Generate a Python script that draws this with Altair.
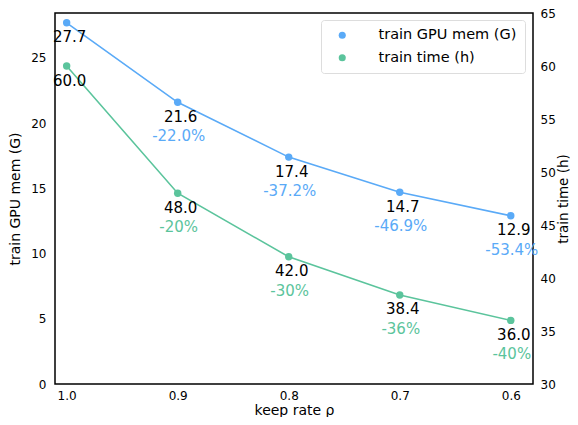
import altair as alt
import pandas as pd

rates = [1.0, 0.9, 0.8, 0.7, 0.6]
mem = [27.7, 21.6, 17.4, 14.7, 12.9]
time_h = [60.0, 48.0, 42.0, 38.4, 36.0]
mem_pct = ["", "-22.0%", "-37.2%", "-46.9%", "-53.4%"]
time_pct = ["", "-20%", "-30%", "-36%", "-40%"]
series_names = ["train GPU mem (G)", "train time (h)"]
colors = ["#5AAAF7", "#5BC49C"]
x_ticks = [1.0, 0.9, 0.8, 0.7, 0.6]

df = pd.DataFrame({
    "rate": rates,
    "mem": mem,
    "time": time_h,
    "mem_lbl": [f"{v:.1f}" for v in mem],
    "time_lbl": [f"{v:.1f}" for v in time_h],
    "mem_pct": mem_pct,
    "time_pct": time_pct,
})

FONT = "DejaVu Sans"

x_enc = alt.X(
    "rate:Q",
    scale=alt.Scale(domain=[0.58, 1.0105], reverse=True, nice=False, zero=False),
    axis=alt.Axis(values=x_ticks, format=".1f", title="keep rate ρ", grid=False,
                  ticks=False, domain=False, labelFontSize=12, titleFontSize=14,
                  labelPadding=6, titlePadding=2, labelFont=FONT, titleFont=FONT,
                  labelColor="black", titleColor="black", titleFontWeight="normal"),
)

color_scale = alt.Scale(domain=series_names, range=colors)
legend = alt.Legend(
    title=None, orient="none", legendX=266, legendY=7,
    fillColor="white", strokeColor="#dddddd", cornerRadius=3, padding=8,
    symbolType="circle", symbolSize=50, symbolOffset=6, labelOffset=29,
    labelFontSize=14.5, labelFont=FONT, labelColor="black", rowPadding=7.5,
    symbolStrokeWidth=0,
)

base = alt.Chart(df).encode(x=x_enc)

def series_layer(field, lbl, pct, name, color, domain, orient, title, label_pad, title_pad, title_size, extra):
    y_enc = alt.Y(
        f"{field}:Q",
        scale=alt.Scale(domain=domain, nice=False, zero=False),
        axis=alt.Axis(orient=orient, title=title, values=list(range(int(domain[0]), int(domain[1]) + 1, 5)),
                      grid=False, ticks=False, domain=False, labelFontSize=12, titleFontSize=title_size,
                      labelPadding=label_pad, titlePadding=title_pad, labelFont=FONT, titleFont=FONT,
                      labelColor="black", titleColor="black", titleFontWeight="normal",
                      titleAngle=270, **extra),
    )
    line = base.mark_line(color=color, strokeWidth=1.6).encode(y=y_enc)
    pts = base.mark_point(filled=True, size=55, opacity=1).encode(
        y=y_enc,
        color=alt.Color("series:N", scale=color_scale, legend=legend),
    ).transform_calculate(series=f"'{name}'")
    t1 = base.mark_text(fontSize=15, font=FONT, color="black", dy=14.5, dx=3,
                        baseline="middle").encode(y=y_enc, text=f"{lbl}:N")
    t2 = base.mark_text(fontSize=15, font=FONT, color=color, dy=34, dx=1,
                        baseline="middle").encode(y=y_enc, text=f"{pct}:N")
    return alt.layer(line, pts, t1, t2)

mem_layer = series_layer("mem", "mem_lbl", "mem_pct", series_names[0], colors[0],
                         [0, 28.45], "left", "train GPU mem (G)", 9, 8, 14, {})
time_layer = series_layer("time", "time_lbl", "time_pct", series_names[1], colors[1],
                          [30, 65], "right", "train time (h)", 7, 1, 13.5, {"titleBaseline": "top"})

chart = alt.layer(mem_layer, time_layer).resolve_scale(y="independent").properties(
    width=478, height=371,
    autosize=alt.AutoSizeParams(type="none"),
    padding={"left": 47, "top": 5, "right": 37, "bottom": 33},
).configure(background="white").configure_view(stroke="black", strokeWidth=1.5)

chart.save("out.html", embed_options={"renderer": "svg", "actions": False})
